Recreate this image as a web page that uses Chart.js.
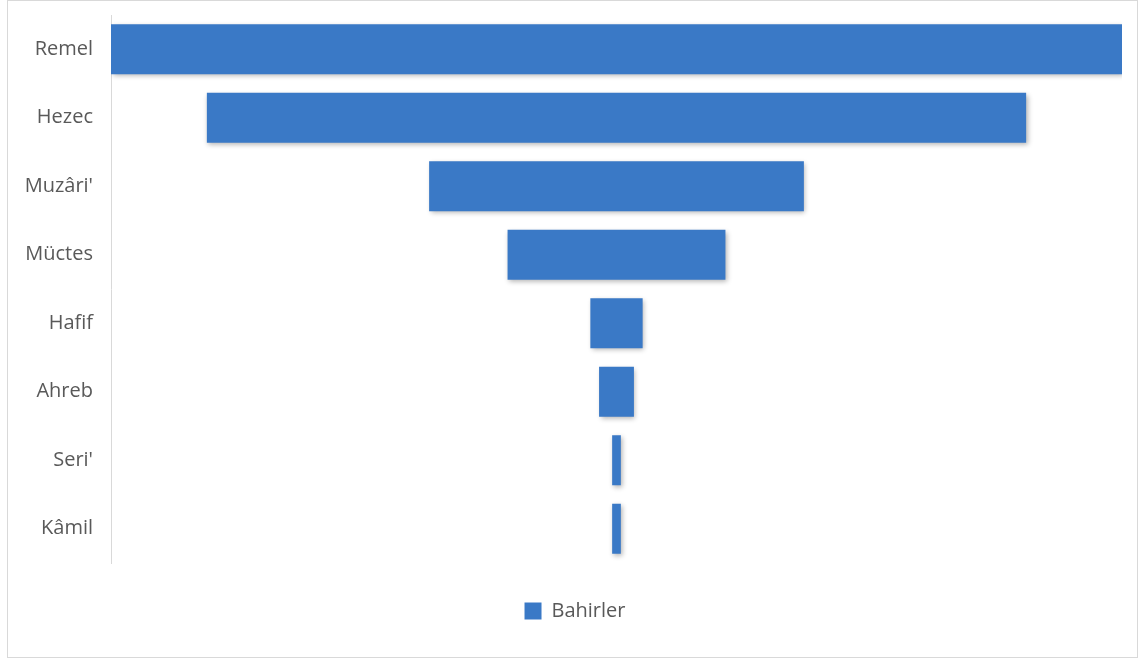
<!DOCTYPE html>
<html>
<head>
<meta charset="utf-8">
<script src="https://cdn.jsdelivr.net/npm/chart.js@4/dist/chart.umd.min.js"></script>
<style>
  html, body { margin: 0; padding: 0; background: #ffffff; }
  #frame { position: absolute; left: 7px; top: 0px; width: 1129px; height: 656px; border: 1px solid #d9d9d9; background: #fff; }
  #frame canvas { display: block; }
</style>
</head>
<body>
<div id="frame"><canvas id="c" width="1129" height="656"></canvas></div>
<script>
const categories = ["Remel", "Hezec", "Muzâri'", "Müctes", "Hafif", "Ahreb", "Seri'", "Kâmil"];
const seriesName = "Bahirler";
const values = [116, 94, 43, 25, 6, 4, 1, 1];

const maxVal = Math.max(...values);
const funnelData = values.map(v => [-v / 2, v / 2]);
const barColor = '#3a79c6';

const shadowPlugin = {
  id: 'barShadow',
  beforeDatasetsDraw(chart) {
    const ctx = chart.ctx;
    ctx.save();
    ctx.shadowColor = 'rgba(0,0,0,0.3)';
    ctx.shadowBlur = 5;
    ctx.shadowOffsetX = 1.5;
    ctx.shadowOffsetY = 2;
  },
  afterDatasetsDraw(chart) {
    chart.ctx.restore();
  }
};

// nudge the legend slightly right, as in the original layout
const legendShift = {
  id: 'legendShift',
  afterLayout(chart) {
    if (chart.legend) {
      chart.legend.left += 10;
      chart.legend.right += 10;
    }
  }
};

new Chart(document.getElementById('c'), {
  type: 'bar',
  data: {
    labels: categories,
    datasets: [{
      label: seriesName,
      data: funnelData,
      backgroundColor: barColor,
      borderWidth: 0,
      borderSkipped: false,
      barPercentage: 0.73,
      categoryPercentage: 1.0
    }]
  },
  plugins: [shadowPlugin, legendShift],
  options: {
    indexAxis: 'y',
    responsive: false,
    animation: false,
    layout: { padding: { left: 0, right: 15, top: 14, bottom: 26 } },
    scales: {
      x: {
        display: false,
        min: -maxVal / 2,
        max: maxVal / 2
      },
      y: {
        grid: { display: false, drawTicks: false },
        border: { display: true, color: '#d9d9d9', width: 1 },
        ticks: {
          color: '#595959',
          padding: 18,
          font: { family: "'Open Sans'", size: 20 }
        },
        afterFit(scale) {
          scale.width = 103;
          scale.paddingTop = 0;
          scale.paddingBottom = 0;
        }
      }
    },
    plugins: {
      tooltip: { enabled: false },
      legend: {
        position: 'bottom',
        labels: {
          color: '#595959',
          boxWidth: 17,
          boxHeight: 17,
          padding: 38,
          font: { family: "'Open Sans'", size: 20 }
        }
      }
    }
  }
});
</script>
</body>
</html>
